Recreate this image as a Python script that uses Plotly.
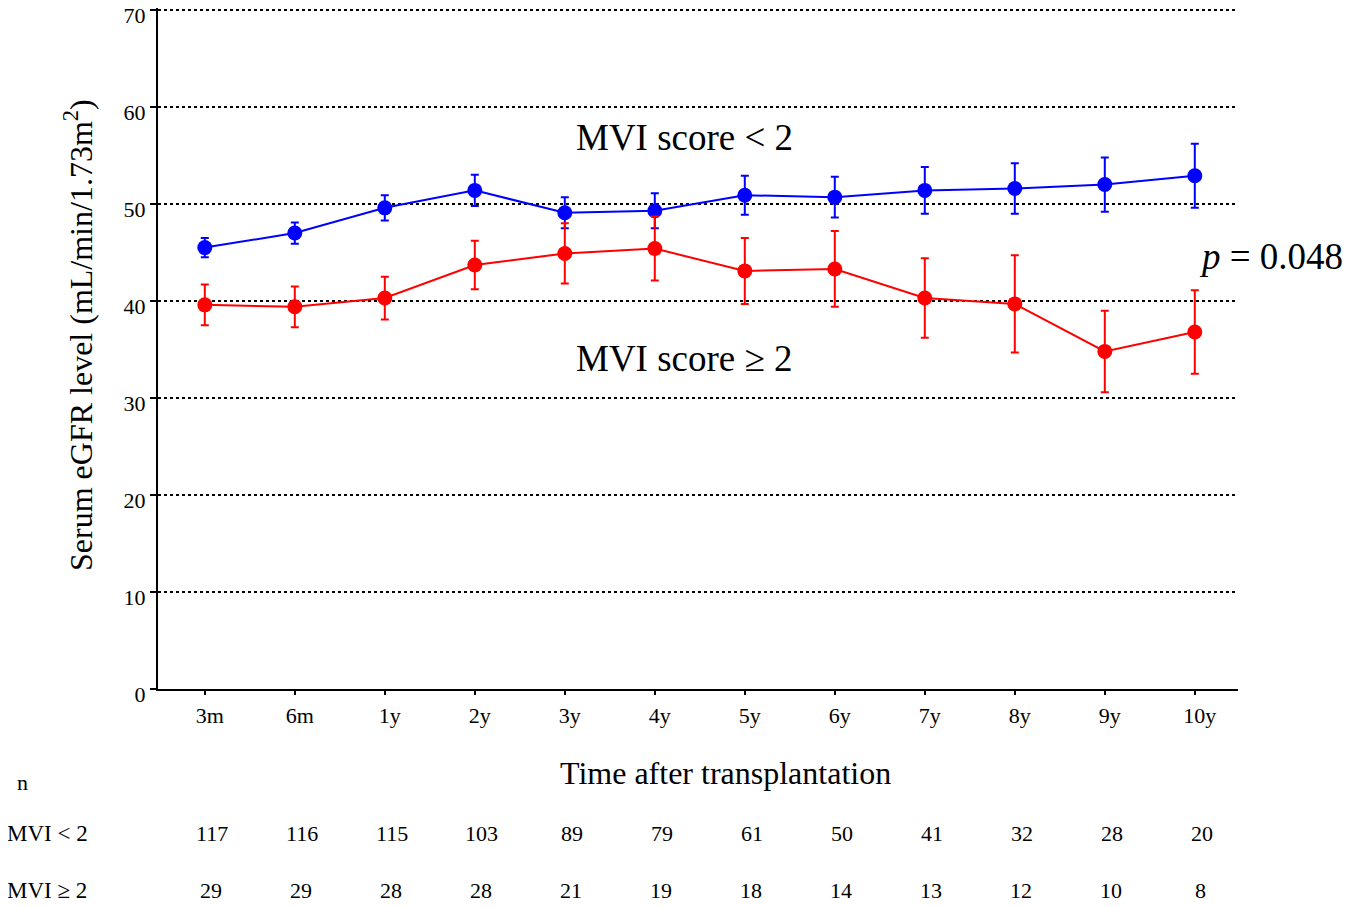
import plotly.graph_objects as go

categories = ["3m", "6m", "1y", "2y", "3y", "4y", "5y", "6y", "7y", "8y", "9y", "10y"]
low_mean = [45.5, 47.0, 49.6, 51.4, 49.1, 49.3, 50.9, 50.7, 51.4, 51.6, 52.0, 52.9]
low_err = [1.0, 1.1, 1.3, 1.6, 1.6, 1.8, 2.0, 2.1, 2.4, 2.6, 2.8, 3.3]
high_mean = [39.6, 39.4, 40.3, 43.7, 44.9, 45.4, 43.1, 43.3, 40.3, 39.7, 34.8, 36.8]
high_err = [2.1, 2.1, 2.2, 2.5, 3.1, 3.3, 3.4, 3.9, 4.1, 5.0, 4.2, 4.3]
n_low = [117, 116, 115, 103, 89, 79, 61, 50, 41, 32, 28, 20]
n_high = [29, 29, 28, 28, 21, 19, 18, 14, 13, 12, 10, 8]
y_ticks = [0, 10, 20, 30, 40, 50, 60, 70]

FONT = "Liberation Serif, Times New Roman, serif"
idx = list(range(len(categories)))

fig = go.Figure()
fig.add_trace(go.Scatter(
    x=idx, y=low_mean, mode="lines+markers",
    line=dict(color="#0000ff", width=2),
    marker=dict(color="#0000ff", size=15),
    error_y=dict(type="data", array=low_err, color="#0000ff", thickness=2, width=4),
    showlegend=False))
fig.add_trace(go.Scatter(
    x=idx, y=high_mean, mode="lines+markers",
    line=dict(color="#ff0000", width=2),
    marker=dict(color="#ff0000", size=15),
    error_y=dict(type="data", array=high_err, color="#ff0000", thickness=2, width=4),
    showlegend=False))

fig.update_layout(
    width=1342, height=899,
    margin=dict(l=150, r=112, t=0, b=218, autoexpand=False),
    plot_bgcolor="white", paper_bgcolor="white",
    font=dict(family=FONT, color="black"),
    xaxis=dict(
        range=[-0.52, 11.48], tickmode="array", tickvals=idx, ticktext=categories,
        showgrid=False, zeroline=False, showline=True, linecolor="black", linewidth=2,
        ticks="outside", ticklen=4, tickwidth=2, tickcolor="black",
        ticklabelshift=5, ticklabelstandoff=2, automargin=False,
        tickfont=dict(size=22, family=FONT)),
    yaxis=dict(
        range=[0, 70.2], tickmode="array", tickvals=y_ticks,
        showgrid=True, gridcolor="black", gridwidth=1.5, griddash="dot",
        zeroline=False, showline=True, linecolor="black", linewidth=2,
        ticks="outside", ticklen=6, tickwidth=2, tickcolor="black",
        ticklabelshift=5, ticklabeloverflow="allow", automargin=False,
        tickfont=dict(size=22, family=FONT)),
)

def a(text, x, y, xref="paper", yref="paper", size=22, xanchor="center", **kw):
    return dict(text=text, x=x, y=y, xref=xref, yref=yref, xanchor=xanchor,
                yanchor="middle", showarrow=False, font=dict(size=size, family=FONT), **kw)

ann = [
    a("MVI score < 2", 5.33, 56.8, "x", "y", 37),
    a("MVI score ≥ 2", 5.33, 34.1, "x", "y", 37),
    a("<i>p</i> = 0.048", 1.031, 44.6, "paper", "y", 37),
    a("Time after transplantation", 0.525, -0.124, size=32),
    a("Serum eGFR level (mL/min/1.73m<sup>2</sup>)", -0.074, 0.52, size=32, textangle=-90),
    a("n", -0.132, -0.138, size=22, xanchor="left"),
    a("MVI < 2", -0.1417, -0.212, size=23, xanchor="left"),
    a("MVI ≥ 2", -0.1417, -0.296, size=23, xanchor="left"),
]
for i, v in enumerate(n_low):
    ann.append(a(str(v), i, -0.212, "x", "paper", 22, xshift=7))
for i, v in enumerate(n_high):
    ann.append(a(str(v), i, -0.296, "x", "paper", 22, xshift=6))
fig.update_layout(annotations=ann)

fig.write_html("out.html")
